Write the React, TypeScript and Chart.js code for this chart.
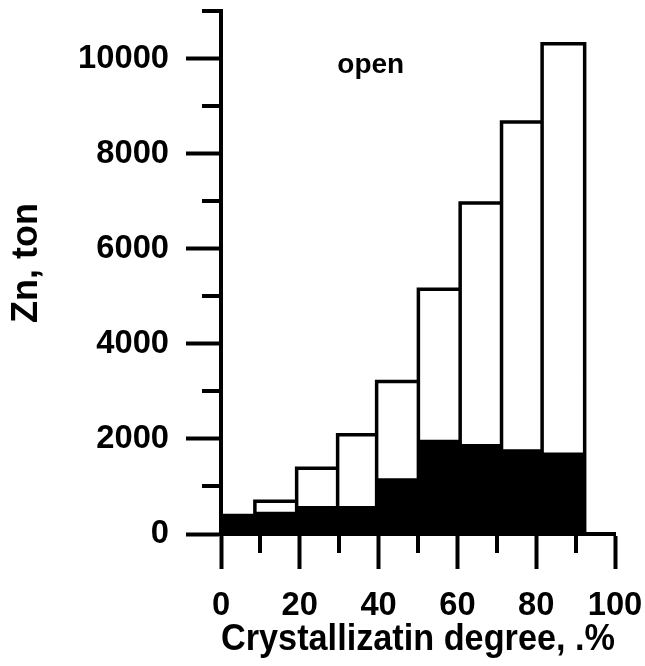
import React, { useEffect, useRef } from 'react';
import { Chart, registerables } from 'chart.js';

Chart.register(...registerables);

// ---- data ----
const binEdges = [0, 8.6, 19.2, 29.6, 39.5, 50.1, 60.7, 71.2, 81.5, 92.3];
const totalValues = [390, 690, 1385, 2085, 3205, 5150, 6960, 8665, 10310];
const blackValues = [380, 470, 590, 590, 1170, 1980, 1895, 1785, 1712];

const xMajorTicks = [0, 20, 40, 60, 80, 100];
const xTickLabels = ['0', '20', '40', '60', '80', '100'];
const xMinorTicks = [10, 30, 50, 70, 90];

const yMajorTicks = [0, 2000, 4000, 6000, 8000, 10000];
const yTickLabels = ['0', '2000', '4000', '6000', '8000', '10000'];
const yMinorTicks = [1000, 3000, 5000, 7000, 9000, 11000];

const xTitle = 'Crystallizatin degree, .%';
const yTitle = 'Zn, ton';
const noteText = 'open';
const noteX = 38;
const noteY = 9850;

const FONT = '"Liberation Sans", Arial, Helvetica, sans-serif';

export default function App() {
  const ref = useRef<HTMLCanvasElement | null>(null);

  useEffect(() => {
    if (!ref.current) return;

    const blackPoints = blackValues
      .map((v, i) => ({ x: binEdges[i], y: v }))
      .concat([{ x: binEdges[binEdges.length - 1], y: blackValues[blackValues.length - 1] }]);

    const outlinePoints: { x: number; y: number | null }[] = [];
    totalValues.forEach((v, i) => {
      const x0 = binEdges[i];
      const x1 = binEdges[i + 1];
      outlinePoints.push({ x: x0, y: 0 }, { x: x0, y: v }, { x: x1, y: v }, { x: x1, y: 0 }, { x: x1, y: null });
    });

    const extras = {
      id: 'extras',
      afterDraw(chart: any) {
        const { ctx, chartArea } = chart;
        const xs = chart.scales.x;
        const ys = chart.scales.y;
        ctx.save();
        ctx.strokeStyle = '#000';
        ctx.lineWidth = 4;
        ctx.lineCap = 'butt';
        ctx.beginPath();
        yMinorTicks.forEach((v) => {
          const py = Math.round(ys.getPixelForValue(v));
          ctx.moveTo(chartArea.left - 19, py);
          ctx.lineTo(chartArea.left, py);
        });
        xMinorTicks.forEach((v) => {
          const px = Math.round(xs.getPixelForValue(v));
          ctx.moveTo(px, chartArea.bottom);
          ctx.lineTo(px, chartArea.bottom + 19);
        });
        ctx.stroke();
        ctx.fillStyle = '#000';
        ctx.textAlign = 'center';
        ctx.textBaseline = 'middle';
        ctx.font = `bold 28px ${FONT}`;
        ctx.fillText(noteText, xs.getPixelForValue(noteX), ys.getPixelForValue(noteY));
        // y-axis title
        ctx.save();
        ctx.translate(27, chartArea.top + (chartArea.bottom - chartArea.top) * 0.482);
        ctx.rotate(-Math.PI / 2);
        ctx.font = `bold 36px ${FONT}`;
        ctx.fillText(yTitle, 0, 0);
        ctx.restore();
        ctx.restore();
      },
    };

    const chart = new Chart(ref.current, {
      type: 'line',
      data: {
        datasets: [
          {
            data: blackPoints as any,
            stepped: 'before',
            fill: 'origin',
            backgroundColor: '#000',
            borderColor: '#000',
            borderWidth: 0,
            pointRadius: 0,
            order: 1,
          },
          {
            data: outlinePoints as any,
            fill: false,
            borderColor: '#000',
            borderWidth: 3.5,
            pointRadius: 0,
            spanGaps: false,
            tension: 0,
            borderJoinStyle: 'miter',
            order: 0,
          },
        ],
      },
      options: {
        responsive: false,
        animation: false,
        devicePixelRatio: 1,
        layout: { padding: { top: 11, right: 30, left: 0, bottom: 0 } },
        plugins: { legend: { display: false }, tooltip: { enabled: false } },
        scales: {
          x: {
            type: 'linear',
            min: 0,
            max: 100,
            afterBuildTicks: (s: any) => {
              s.ticks = xMajorTicks.map((v) => ({ value: v }));
            },
            afterFit: (s: any) => {
              s.height = 132;
              s.paddingLeft = 0;
              s.paddingRight = 0;
            },
            grid: { drawOnChartArea: false, drawTicks: true, tickLength: 35, tickWidth: 4, tickColor: '#000' },
            border: { display: true, color: '#000', width: 4 },
            ticks: {
              callback: (v: any) => xTickLabels[xMajorTicks.indexOf(Number(v))],
              color: '#000',
              font: { family: FONT, size: 32.7, weight: 'bold' },
              padding: 17,
              maxRotation: 0,
              minRotation: 0,
              autoSkip: false,
            },
            title: {
              display: true,
              text: xTitle,
              color: '#000',
              font: { family: FONT, size: 37.8, weight: 'bold' },
              padding: { top: 0, bottom: 4 },
            },
          },
          y: {
            type: 'linear',
            min: 0,
            max: 11000,
            afterBuildTicks: (s: any) => {
              s.ticks = yMajorTicks.map((v) => ({ value: v }));
            },
            afterFit: (s: any) => {
              s.width = 221;
              s.paddingTop = 0;
              s.paddingBottom = 0;
            },
            grid: { drawOnChartArea: false, drawTicks: true, tickLength: 35, tickWidth: 4, tickColor: '#000' },
            border: { display: true, color: '#000', width: 4 },
            ticks: {
              callback: (v: any) => yTickLabels[yMajorTicks.indexOf(Number(v))],
              color: '#000',
              font: { family: FONT, size: 32.7, weight: 'bold' },
              padding: 17,
              autoSkip: false,
            },
            title: { display: false },
          },
        },
      },
      plugins: [extras],
    });

    return () => chart.destroy();
  }, []);

  return (
    <div style={{ position: 'fixed', left: 0, top: 0, width: 645, height: 666, background: '#fff' }}>
      <canvas ref={ref} width={645} height={666} style={{ display: 'block' }} />
    </div>
  );
}
